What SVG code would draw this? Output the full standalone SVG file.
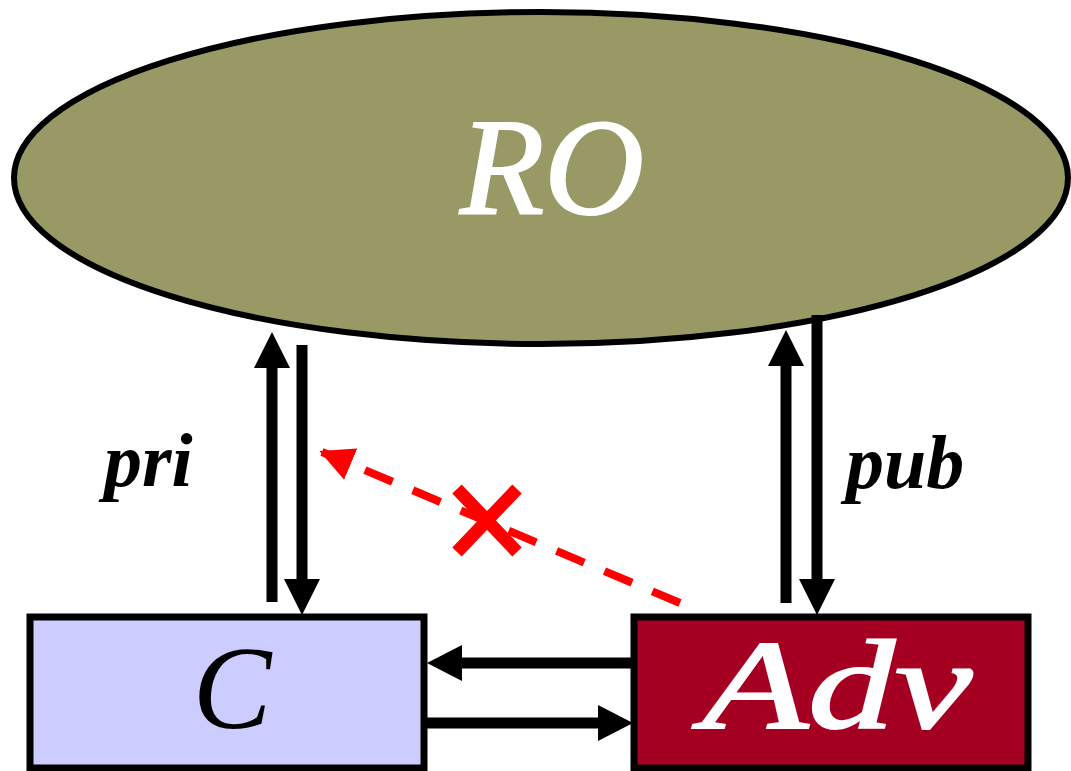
<svg xmlns="http://www.w3.org/2000/svg" width="1071" height="771" viewBox="0 0 1071 771">
  <style>
    .shaft { stroke: #000; stroke-width: 11; fill: none; }
    .tip { fill: #000; }
    .box { stroke: #000; stroke-width: 7; }
    .lbl { font-family: "Liberation Serif", serif; font-style: italic; font-weight: bold; font-size: 76px; fill: #000; }
    .big { font-family: "Liberation Serif", serif; font-style: italic; text-anchor: middle; }
    .heavy { stroke: #fff; stroke-width: 2; }
  </style>
  <defs>
    <marker id="redhead" viewBox="0 0 24 24" refX="22" refY="12" markerWidth="34" markerHeight="34" markerUnits="userSpaceOnUse" orient="auto">
      <path d="M0,0 L24,12 L0,24 Z" fill="#f00"/>
    </marker>
  </defs>

  <g id="ro">
    <ellipse cx="541" cy="178" rx="527" ry="166" fill="#999966" stroke="#000" stroke-width="6"/>
    <text class="big heavy" x="552" y="214" font-size="138" fill="#fff">RO</text>
  </g>

  <g id="client">
    <rect class="box" x="30" y="617" width="394" height="151" fill="#ccccff"/>
    <text class="big" x="232" y="728" font-size="118" fill="#000">C</text>
  </g>

  <g id="adv">
    <rect class="box" x="634" y="617" width="394" height="151" fill="#a50021"/>
    <text class="heavy" x="702" y="728" font-family="Liberation Serif, serif" font-style="italic" font-size="128" fill="#fff" textLength="270" lengthAdjust="spacingAndGlyphs">Adv</text>
  </g>

  <g id="connectors">
    <!-- C <-> RO pair -->
    <line class="shaft" x1="272" y1="602" x2="272" y2="360"/>
    <polygon class="tip" points="272,332 290,368 254,368"/>
    <line class="shaft" x1="302" y1="345" x2="302" y2="585"/>
    <polygon class="tip" points="302,615 320,579 284,579"/>
    <!-- Adv <-> RO pair -->
    <line class="shaft" x1="786" y1="603" x2="786" y2="358"/>
    <polygon class="tip" points="786,330 804,366 768,366"/>
    <line class="shaft" x1="817" y1="315" x2="817" y2="585"/>
    <polygon class="tip" points="817,615 835,579 799,579"/>
    <!-- Adv <-> C pair -->
    <line class="shaft" x1="632" y1="663" x2="455" y2="663"/>
    <polygon class="tip" points="427,663 462,645 462,681"/>
    <line class="shaft" x1="427" y1="723" x2="605" y2="723"/>
    <polygon class="tip" points="633,723 598,705 598,741"/>
    <!-- blocked Adv -> C leak -->
    <line x1="680" y1="603" x2="322" y2="452" stroke="#f00" stroke-width="8" stroke-dasharray="30 22" marker-end="url(#redhead)"/>
    <g stroke="#f00" stroke-width="13">
      <line x1="457" y1="489" x2="517" y2="552"/>
      <line x1="517" y1="489" x2="457" y2="552"/>
    </g>
  </g>

  <text class="lbl" x="104" y="486">pri</text>
  <text class="lbl" x="846" y="488">pub</text>
</svg>
